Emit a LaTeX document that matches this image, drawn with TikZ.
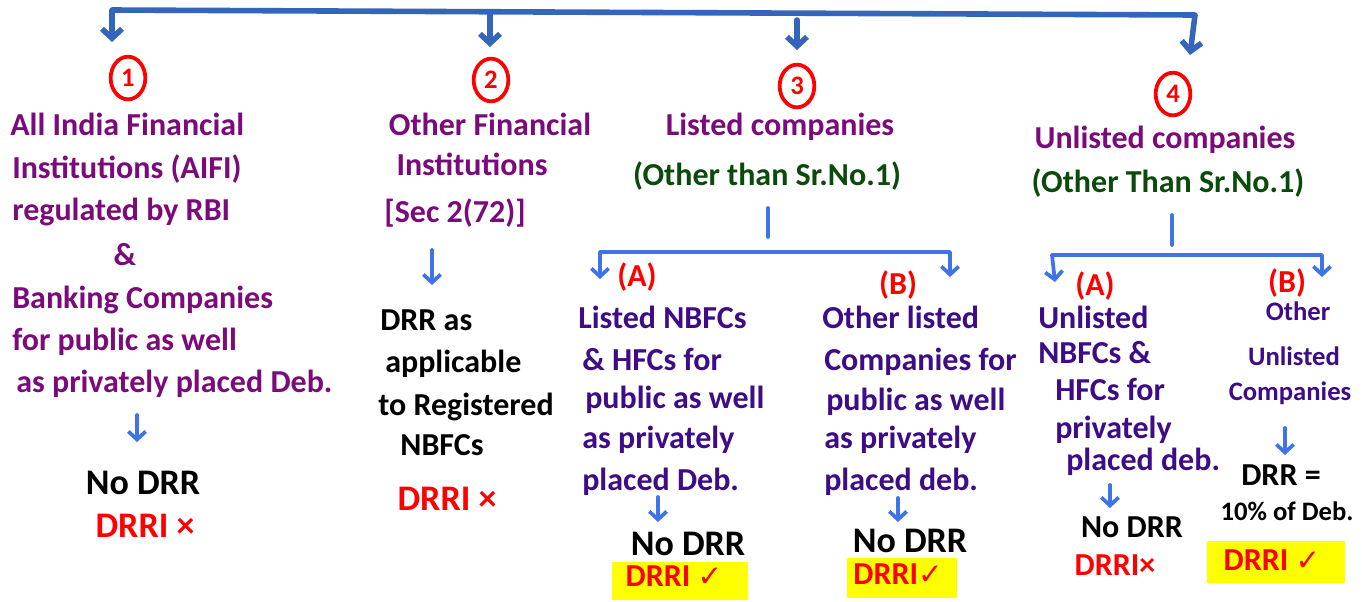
\documentclass[tikz,border=0pt]{standalone}
\usepackage{fontspec}
\setmainfont{Carlito}
\newfontfamily\symfont{DejaVu Sans}
\usetikzlibrary{arrows.meta,shapes.geometric}
\definecolor{plum}{HTML}{7B0A7B}
\definecolor{indig}{HTML}{3D0C86}
\definecolor{dgreen}{HTML}{0A4A0A}
\definecolor{topblue}{HTML}{3366BB}
\definecolor{arrblue}{HTML}{3F74E8}
\definecolor{hl}{HTML}{FFFF00}
\begin{document}
\begin{tikzpicture}[x=0.75pt,y=-0.75pt,
  lbl/.style={inner sep=0pt, font=\fontsize{24}{28}\selectfont\bfseries},
  lblsm/.style={inner sep=0pt, font=\fontsize{20}{24}\selectfont\bfseries},
  lblbig/.style={inner sep=0pt, font=\fontsize{27}{30}\selectfont\bfseries},
  pl/.style={lbl, text=plum},
  ind/.style={lbl, text=indig},
  gr/.style={lbl, text=dgreen},
  blk/.style={lbl, text=black},
  rd/.style={lbl, text=red},
  hlbox/.style={fill=hl, draw=none, inner sep=0pt},
  numc/.style={ellipse, draw=red, line width=2.8pt, text=red, inner sep=0pt,
    minimum width=26pt, minimum height=32pt, font=\fontsize{20}{22}\selectfont\bfseries},
  brk/.style={draw=topblue, line width=4.2pt, line cap=round, line join=round},
  brkarr/.style={brk, -{Straight Barb[length=7pt,width=15pt]}},
  branch/.style={draw=arrblue, line width=2.8pt, line cap=round, line join=round},
  arr/.style={branch, -{Straight Barb[length=6pt,width=13pt]}}
]
\useasboundingbox (0,0) rectangle (1362,601);
\newcommand{\tick}{{\symfont\fontsize{22}{24}\selectfont ✓}}

% ---- circled numbers ----
\node[numc] (n1) at (128,78) {1};
\node[numc] (n2) at (491,80) {2};
\node[numc] (n3) at (797,86) {3};
\node[numc] (n4) at (1173,94) {4};

% ---- top bracket ----
\coordinate (tl) at (112,10);
\coordinate (tr) at (1195,15);
\coordinate (t1) at (112,42);
\coordinate (t4) at (1190,55);
\coordinate (t2a) at (490,12);
\coordinate (t2b) at (490,47);
\coordinate (t3a) at (797,20);
\coordinate (t3b) at (797,50);
\draw[brk, {Straight Barb[length=7pt,width=15pt]}-{Straight Barb[length=7pt,width=15pt]}] (t1) -- (tl) -- (tr) -- (t4);
\draw[brkarr] (t2a) -- (t2b);
\draw[brkarr] (t3a) -- (t3b);

% ---- column 1 ----
\node[pl, anchor=base west] (c1a) at (10,135) {All India Financial};
\node[pl, anchor=base west] (c1b) at (12,178) {Institutions (AIFI)};
\node[pl, anchor=base west] (c1c) at (12,220) {regulated by RBI};
\node[pl, anchor=base] (c1d) at (125,265) {\&};
\node[pl, anchor=base west] (c1e) at (12,308) {Banking Companies};
\node[pl, anchor=base west] (c1f) at (12,350) {for public as well};
\node[pl, anchor=base west] (c1g) at (16,392) {as privately placed Deb.};
\coordinate (a1s) at (137,415);
\coordinate (a1e) at (137,442);
\draw[arr] (a1s) -- (a1e);
\node[blk, lblbig, anchor=base] (c1h) at (143,494) {No DRR};
\node[rd, lblbig, anchor=base] (c1i) at (145,537) {DRRI ×};

% ---- column 2 ----
\node[pl, anchor=base] (c2a) at (490,135) {Other Financial};
\node[pl, anchor=base] (c2b) at (472,175) {Institutions};
\node[pl, anchor=base] (c2c) at (455,222) {[Sec 2(72)]};
\coordinate (a2s) at (432,250);
\coordinate (a2e) at (432,285);
\draw[arr] (a2s) -- (a2e);
\node[blk, anchor=base west] (c2d) at (380,330) {DRR as};
\node[blk, anchor=base west] (c2e) at (385,372) {applicable};
\node[blk, anchor=base west] (c2f) at (378,415) {to Registered};
\node[blk, anchor=base] (c2g) at (442,455) {NBFCs};
\node[rd, lblbig, anchor=base] (c2h) at (447,510) {DRRI ×};

% ---- column 3 ----
\node[pl, anchor=base] (c3a) at (780,135) {Listed companies};
\node[gr, anchor=base] (c3b) at (767,185) {(Other than Sr.No.1)};
\coordinate (v3s) at (768,208);
\coordinate (v3e) at (768,237);
\draw[branch] (v3s) -- (v3e);
\coordinate (b3l) at (600,252);
\coordinate (b3r) at (950,252);
\coordinate (b3la) at (600,279);
\coordinate (b3ra) at (950,277);
\draw[branch, {Straight Barb[length=6pt,width=13pt]}-{Straight Barb[length=6pt,width=13pt]}] (b3la) -- (b3l) -- (b3r) -- (b3ra);
\node[rd, anchor=center] (c3A) at (637,277) {(A)};
\node[rd, anchor=center] (c3B) at (898,285) {(B)};

\node[ind, anchor=base west] (c3Aa) at (578,328) {Listed NBFCs};
\node[ind, anchor=base west] (c3Ab) at (582,370) {\& HFCs for};
\node[ind, anchor=base west] (c3Ac) at (585,408) {public as well};
\node[ind, anchor=base west] (c3Ad) at (582,448) {as privately};
\node[ind, anchor=base west] (c3Ae) at (582,490) {placed Deb.};
\coordinate (a3As) at (658,497);
\coordinate (a3Ae) at (658,522);
\draw[arr] (a3As) -- (a3Ae);
\node[blk, lblbig, anchor=base] (c3Af) at (688,555) {No DRR};
\node[hlbox, minimum width=102pt, minimum height=28.5pt] (h3A) at (680,581) {};
\node[rd, anchor=center] (c3Ag) at (674,576) {DRRI \tick};

\node[ind, anchor=base west] (c3Ba) at (822,328) {Other listed};
\node[ind, anchor=base west] (c3Bb) at (824,370) {Companies for};
\node[ind, anchor=base west] (c3Bc) at (826,410) {public as well};
\node[ind, anchor=base west] (c3Bd) at (824,448) {as privately};
\node[ind, anchor=base west] (c3Be) at (824,490) {placed deb.};
\coordinate (a3Bs) at (898,498);
\coordinate (a3Be) at (898,522);
\draw[arr] (a3Bs) -- (a3Be);
\node[blk, lblbig, anchor=base] (c3Bf) at (910,552) {No DRR};
\node[hlbox, minimum width=82.5pt, minimum height=30pt] (h3B) at (902,578) {};
\node[rd, anchor=center] (c3Bg) at (898,574) {DRRI\tick};

% ---- column 4 ----
\node[pl, anchor=base] (c4a) at (1165,148) {Unlisted companies};
\node[gr, anchor=base] (c4b) at (1168,192) {(Other Than Sr.No.1)};
\coordinate (v4s) at (1172,215);
\coordinate (v4e) at (1172,245);
\draw[branch] (v4s) -- (v4e);
\coordinate (b4l) at (1052,255);
\coordinate (b4r) at (1322,255);
\coordinate (b4la) at (1055,282);
\coordinate (b4ra) at (1322,277);
\draw[branch, {Straight Barb[length=6pt,width=13pt]}-{Straight Barb[length=6pt,width=13pt]}] (b4la) -- (b4l) -- (b4r) -- (b4ra);
\node[rd, anchor=center] (c4A) at (1095,286) {(A)};
\node[rd, anchor=center] (c4B) at (1287,283) {(B)};

\node[ind, anchor=base west] (c4Aa) at (1038,328) {Unlisted};
\node[ind, anchor=base west] (c4Ab) at (1038,363) {NBFCs \&};
\node[ind, anchor=base west] (c4Ac) at (1055,400) {HFCs for};
\node[ind, anchor=base west] (c4Ad) at (1055,438) {privately};
\node[ind, anchor=base west] (c4Ae) at (1066,470) {placed deb.};
\coordinate (a4As) at (1110,485);
\coordinate (a4Ae) at (1110,508);
\draw[arr] (a4As) -- (a4Ae);
\node[blk, anchor=base] (c4Af) at (1132,537) {No DRR};
\node[rd, anchor=base] (c4Ag) at (1115,575) {DRRI×};

\node[ind, lblsm, anchor=base] (c4Ba) at (1298,320) {Other};
\node[ind, lblsm, anchor=base] (c4Bb) at (1294,365) {Unlisted};
\node[ind, lblsm, anchor=base] (c4Bc) at (1290,400) {Companies};
\coordinate (a4Bs) at (1285,428);
\coordinate (a4Be) at (1285,455);
\draw[arr] (a4Bs) -- (a4Be);
\node[blk, anchor=base] (c4Bd) at (1281,485) {DRR =};
\node[blk, lblsm, anchor=base] (c4Be) at (1287,520) {10\% of Deb.};
\node[hlbox, minimum width=103.5pt, minimum height=32pt] (h4B) at (1276,562) {};
\node[rd, anchor=center] (c4Bf) at (1272,560) {DRRI \tick};
\end{tikzpicture}
\end{document}
